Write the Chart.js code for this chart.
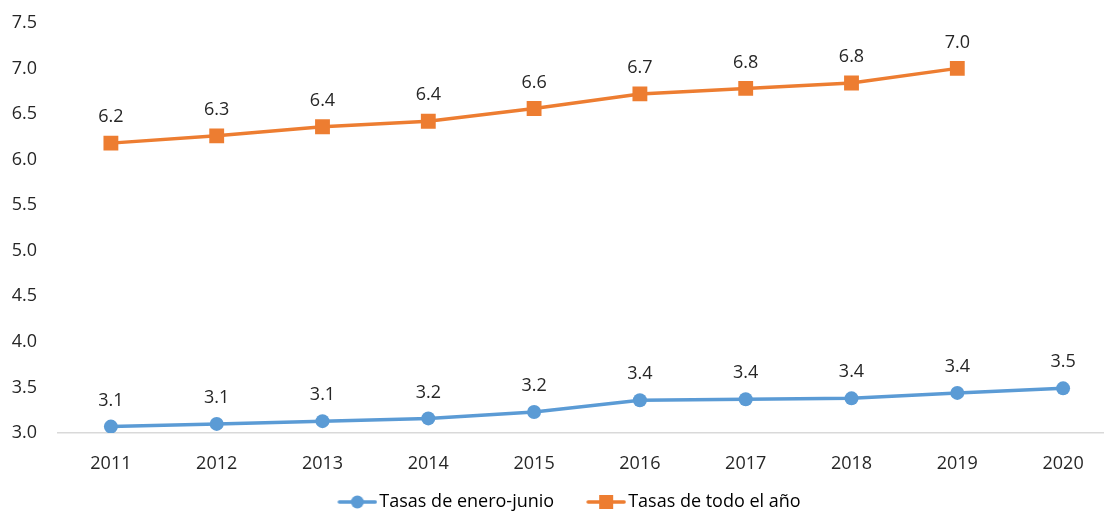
<!DOCTYPE html>
<html>
<head>
<meta charset="utf-8">
<script src="https://cdn.jsdelivr.net/npm/chart.js@4.4.1/dist/chart.umd.min.js"></script>
<style>
    html, body { margin: 0; padding: 0; background: #fff; overflow: hidden; }
    .chart-box { width: 1138px; height: 530px; margin-top: -9px; }
</style>
</head>
<body>
<div class="chart-box"><canvas id="rates-chart"></canvas></div>
<script>
    const years = ['2011', '2012', '2013', '2014', '2015', '2016', '2017', '2018', '2019', '2020'];
    const halfYearRates = [3.07, 3.10, 3.13, 3.16, 3.23, 3.36, 3.37, 3.38, 3.44, 3.49];
    const fullYearRates = [6.18, 6.26, 6.36, 6.42, 6.56, 6.72, 6.78, 6.84, 7.00, null];
    const yTicks = [3.0, 3.5, 4.0, 4.5, 5.0, 5.5, 6.0, 6.5, 7.0, 7.5];

    const blue = '#5B9BD5';
    const orange = '#ED7D31';
    const textColor = '#262626';
    const fontFamily = '"Open Sans", "Noto Sans", sans-serif';

    // legend icon: line with marker, drawn in the right 40px of a 65px image
    function legendIcon(color, shape) {
        const c = document.createElement('canvas');
        c.width = 65;
        c.height = 16;
        const ctx = c.getContext('2d');
        ctx.strokeStyle = color;
        ctx.lineWidth = 3.5;
        ctx.lineCap = 'round';
        ctx.beginPath();
        ctx.moveTo(27, 8);
        ctx.lineTo(63, 8);
        ctx.stroke();
        ctx.fillStyle = color;
        ctx.beginPath();
        if (shape === 'circle') {
            ctx.arc(45, 8, 6.5, 0, Math.PI * 2);
        } else {
            ctx.rect(38, 1, 14, 14);
        }
        ctx.fill();
        return c;
    }

    const valueLabels = {
        id: 'valueLabels',
        afterLayout(chart) {
            // let the y tick labels use the space left of the axis box
            chart.scales.y.left = 0;
        },
        afterDatasetsDraw(chart) {
            const ctx = chart.ctx;
            ctx.save();
            ctx.font = '18px ' + fontFamily;
            ctx.fillStyle = textColor;
            ctx.textAlign = 'center';
            ctx.textBaseline = 'middle';
            chart.data.datasets.forEach((ds, i) => {
                const meta = chart.getDatasetMeta(i);
                meta.data.forEach((pt, j) => {
                    const v = ds.data[j];
                    if (v === null || v === undefined) return;
                    ctx.fillText(v.toFixed(1), pt.x, pt.y - 26);
                });
            });
            ctx.restore();
        }
    };

    const ctx = document.getElementById('rates-chart').getContext('2d');
    const ratesChart = new Chart(ctx, {
        type: 'line',
        data: {
            labels: years,
            datasets: [{
                label: 'Tasas de enero-junio',
                data: halfYearRates,
                borderColor: blue,
                backgroundColor: blue,
                borderWidth: 3.5,
                pointStyle: 'circle',
                pointRadius: 7,
                pointHoverRadius: 7,
                pointBorderWidth: 0,
                tension: 0
            }, {
                label: 'Tasas de todo el año',
                data: fullYearRates,
                borderColor: orange,
                backgroundColor: orange,
                borderWidth: 3.5,
                pointStyle: 'rect',
                pointRadius: 10.5,
                pointHoverRadius: 10.5,
                pointBorderWidth: 0,
                tension: 0
            }]
        },
        options: {
            responsive: true,
            maintainAspectRatio: false,
            animation: false,
            layout: {
                padding: { top: 13, right: 22, left: 4, bottom: 0 }
            },
            plugins: {
                legend: {
                    position: 'bottom',
                    labels: {
                        usePointStyle: true,
                        pointStyleWidth: 51,
                        padding: 14,
                        color: textColor,
                        font: { family: fontFamily, size: 18 },
                        generateLabels(chart) {
                            return chart.data.datasets.map((ds, i) => ({
                                text: ds.label,
                                fillStyle: ds.borderColor,
                                strokeStyle: ds.borderColor,
                                lineWidth: 0,
                                pointStyle: legendIcon(ds.borderColor, i === 0 ? 'circle' : 'rect'),
                                datasetIndex: i,
                                hidden: false
                            }));
                        }
                    }
                },
                tooltip: { enabled: false }
            },
            scales: {
                y: {
                    min: 3,
                    max: 7.5,
                    afterFit(scale) { scale.width = 54; },
                    afterBuildTicks(scale) {
                        scale.ticks = yTicks.map(v => ({ value: v }));
                    },
                    ticks: {
                        padding: 21,
                        color: textColor,
                        font: { family: fontFamily, size: 18 },
                        callback: v => Number(v).toFixed(1)
                    },
                    grid: { display: false, drawTicks: false },
                    border: { display: false }
                },
                x: {
                    offset: true,
                    afterFit(scale) { scale.height = 46; },
                    ticks: {
                        padding: 20,
                        maxRotation: 0,
                        color: textColor,
                        font: { family: fontFamily, size: 18 }
                    },
                    grid: { display: false, drawTicks: false },
                    border: { display: true, color: '#D9D9D9', width: 1.5 }
                }
            }
        },
        plugins: [valueLabels]
    });
</script>
</body>
</html>
